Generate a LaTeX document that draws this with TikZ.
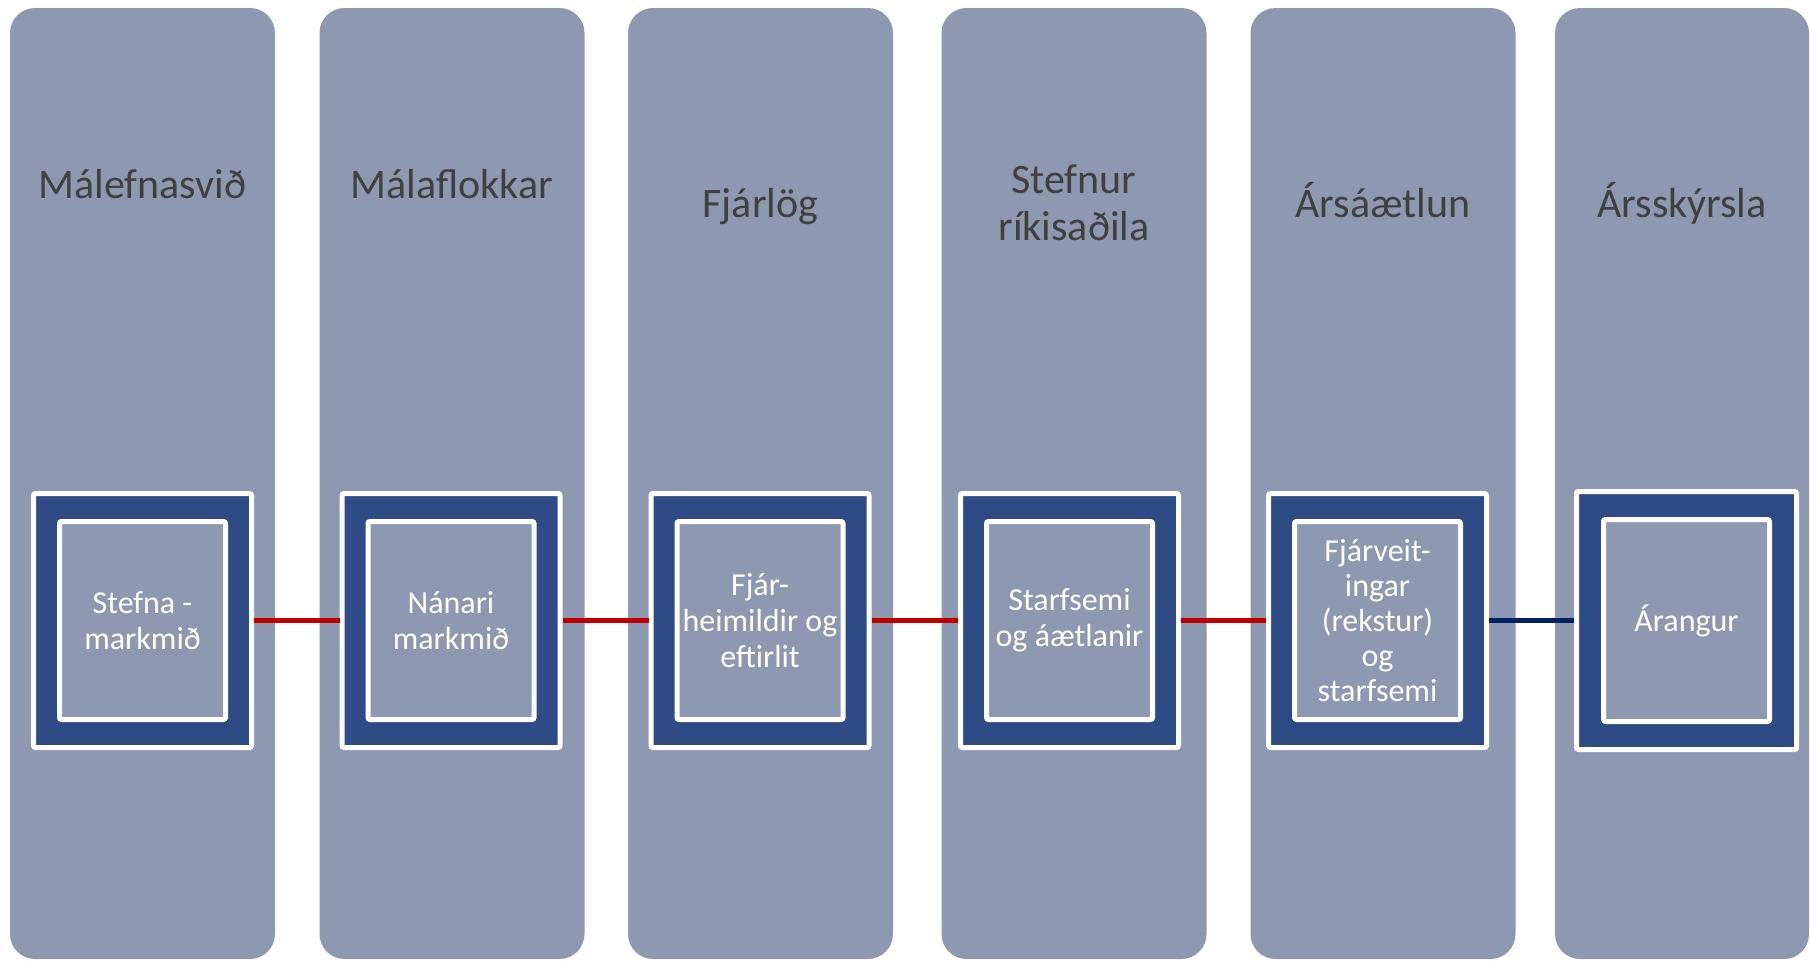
\documentclass[tikz,border=0pt]{standalone}
\usepackage{fontspec}
\setmainfont{Carlito}
\usepackage{xcolor}
\usepackage{tikz}
\usetikzlibrary{positioning}
\definecolor{lanegray}{HTML}{8C99B0}
\definecolor{boxblue}{HTML}{2F4B85}
\definecolor{linkred}{HTML}{C00000}
\definecolor{linknavy}{HTML}{002060}
\definecolor{headgray}{HTML}{404040}

\begin{document}
\begin{tikzpicture}[x=0.5pt, y=-0.5pt,
		lane/.style={fill=lanegray, rounded corners=12.5pt, minimum width=132.5pt, minimum height=475.5pt, inner sep=0pt},
		head/.style={text=headgray, align=center, inner sep=0pt, font=\fontsize{21pt}{23.5pt}\selectfont},
		outerbox/.style={fill=boxblue, draw=white, line width=2.5pt, rounded corners=1pt, minimum width=109pt, minimum height=127pt, inner sep=0pt},
		innerbox/.style={fill=lanegray, draw=white, line width=2.5pt, rounded corners=1pt, minimum width=83pt, minimum height=99pt, inner sep=0pt, text=white, align=center, font=\fontsize{16pt}{18pt}\selectfont},
		link/.style={draw=linkred, line width=2.5pt}]
		
		\useasboundingbox (0,0) rectangle (1810,960);
		
		% columns
		\node[lane] (l1) at (142.5,483.5) {};
		\node[lane] (l2) at (452,483.5) {};
		\node[lane] (l3) at (760.5,483.5) {};
		\node[lane] (l4) at (1074,483.5) {};
		\node[lane] (l5) at (1383,483.5) {};
		\node[lane, minimum width=127pt] (l6) at (1682,483.5) {};
		
		% headings
		\node[head, anchor=base] (h1) at (142.5,198) {Málefnasvið};
		\node[head, anchor=base] (h2) at (452,198) {Málaflokkar};
		\node[head, anchor=base] (h3) at (760.5,217) {Fjárlög};
		\node[head, anchor=base] (h4) at (1074,240) {Stefnur\\ríkisaðila}; % base = last line
		\node[head, anchor=base] (h5) at (1383,217) {Ársáætlun};
		\node[head, anchor=base] (h6) at (1682,217) {Ársskýrsla};
		
		% framed boxes
		\node[outerbox] (b1) at (142.5,620.5) {};
		\node[outerbox] (b2) at (451,620.5) {};
		\node[outerbox] (b3) at (760,620.5) {};
		\node[outerbox] (b4) at (1069.5,620.5) {};
		\node[outerbox] (b5) at (1377.5,620.5) {};
		\node[outerbox, minimum width=110pt, minimum height=129pt] (b6) at (1686.5,620.5) {};
		
		\node[innerbox] (i1) at (b1) {Stefna -\\markmið};
		\node[innerbox] (i2) at (b2) {Nánari\\markmið};
		\node[innerbox] (i3) at (b3) {Fjár-\\heimildir og\\eftirlit};
		\node[innerbox] (i4) at (b4) {Starfsemi\\og áætlanir};
		\node[innerbox, font=\fontsize{16pt}{17.5pt}\selectfont] (i5) at (b5) {Fjárveit-\\ingar\\(rekstur)\\og\\starfsemi};
		\node[innerbox, minimum height=101pt] (i6) at (b6) {Árangur};
		
		\path[link]
		(b1) edge (b2)
		(b2) edge (b3)
		(b3) edge (b4)
		(b4) edge (b5)
		;
		\path[link, draw=linknavy] (b5) edge (b6);
		
\end{tikzpicture}
\end{document}
